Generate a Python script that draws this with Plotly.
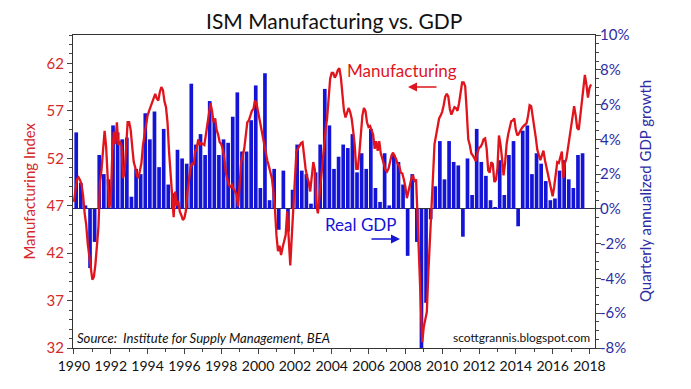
import plotly.graph_objects as go

# ---------------- data ----------------
# ISM Manufacturing index, monthly, Jan 1990 .. Feb 2018
ism_1990 = [47.4, 48.6, 49.8, 50.0, 49.7, 49.2, 48.0, 46.2, 45.0, 43.0, 41.5, 40.6]
ism_1991 = [39.2, 39.5, 40.8, 42.8, 44.8, 49.5, 50.8, 52.9, 54.9, 53.2, 49.5, 46.8]
ism_1992 = [47.5, 52.5, 54.8, 53.5, 55.8, 53.4, 53.8, 53.4, 49.9, 50.5, 53.0, 55.8]
ism_1993 = [55.8, 55.0, 53.2, 51.6, 51.0, 50.2, 49.9, 50.6, 51.5, 53.4, 54.5, 55.8]
ism_1994 = [56.5, 57.0, 57.5, 58.0, 58.5, 58.8, 58.3, 58.1, 59.0, 59.5, 59.2, 58.0]
ism_1995 = [57.4, 55.8, 52.7, 50.0, 47.4, 45.8, 48.5, 47.0, 47.5, 46.4, 46.0, 45.5]
ism_1996 = [45.7, 46.5, 48.5, 50.0, 51.0, 51.5, 51.3, 52.7, 53.0, 54.0, 53.4, 53.6]
ism_1997 = [53.5, 53.4, 54.5, 55.8, 56.9, 57.8, 57.0, 55.8, 56.2, 55.0, 54.5, 53.7]
ism_1998 = [53.5, 53.0, 52.0, 50.5, 49.8, 49.2, 49.0, 49.2, 48.8, 48.5, 48.2, 46.9]
ism_1999 = [49.5, 51.6, 52.3, 53.0, 54.4, 55.8, 56.0, 56.5, 57.0, 57.2, 58.1, 57.8]
ism_2000 = [56.9, 56.0, 55.2, 54.5, 53.6, 52.7, 51.8, 51.2, 50.5, 49.9, 48.5, 46.7]
ism_2001 = [43.9, 42.2, 42.8, 41.8, 42.6, 43.2, 43.9, 46.4, 43.2, 40.7, 43.8, 46.4]
ism_2002 = [50.2, 52.7, 53.0, 53.4, 53.6, 53.7, 52.0, 50.9, 50.0, 49.5, 48.5, 49.9]
ism_2003 = [51.6, 50.8, 47.1, 46.2, 48.0, 49.9, 51.5, 53.4, 55.0, 56.2, 58.5, 60.4]
ism_2004 = [61.0, 61.0, 60.5, 60.8, 61.3, 61.5, 60.5, 58.8, 57.0, 56.3, 56.8, 57.3]
ism_2005 = [56.9, 56.2, 54.9, 53.4, 50.9, 50.9, 52.5, 54.5, 56.5, 57.3, 57.0, 55.8]
ism_2006 = [55.3, 55.4, 55.0, 54.5, 53.0, 53.8, 52.8, 53.8, 52.5, 51.8, 51.4, 50.8]
ism_2007 = [50.6, 50.9, 51.8, 52.3, 52.6, 52.3, 51.9, 51.4, 51.2, 50.5, 50.4, 49.8]
ism_2008 = [49.0, 47.8, 48.5, 49.2, 49.9, 50.2, 49.5, 49.8, 45.5, 39.5, 36.0, 32.6]
ism_2009 = [34.2, 35.0, 35.8, 40.0, 43.0, 45.7, 50.0, 53.5, 54.5, 55.5, 56.2, 56.5]
ism_2010 = [56.9, 57.6, 58.5, 58.8, 58.5, 57.2, 56.6, 57.0, 57.4, 57.3, 57.0, 57.8]
ism_2011 = [59.0, 60.0, 60.0, 59.6, 57.0, 54.0, 53.4, 52.5, 52.3, 52.0, 51.7, 52.6]
ism_2012 = [53.1, 53.2, 53.5, 54.0, 54.1, 53.0, 50.7, 50.5, 51.6, 51.4, 49.5, 49.7]
ism_2013 = [50.9, 54.4, 53.5, 52.0, 50.2, 51.5, 53.5, 54.5, 55.2, 55.9, 56.0, 56.2]
ism_2014 = [55.0, 54.4, 54.6, 55.0, 55.2, 55.4, 55.6, 55.7, 56.5, 57.6, 57.5, 56.5]
ism_2015 = [55.0, 54.2, 52.9, 52.2, 51.8, 52.3, 52.8, 51.8, 51.0, 50.2, 49.5, 48.8]
ism_2016 = [48.0, 49.0, 50.5, 51.6, 51.5, 52.0, 52.7, 49.9, 51.5, 52.0, 53.0, 54.5]
ism_2017 = [55.3, 56.5, 57.5, 56.5, 55.2, 55.0, 56.6, 58.0, 59.5, 60.8, 59.8, 58.4]
ism_2018 = [59.4, 59.8]

ism_values = (ism_1990 + ism_1991 + ism_1992 + ism_1993 + ism_1994 + ism_1995 +
              ism_1996 + ism_1997 + ism_1998 + ism_1999 + ism_2000 + ism_2001 +
              ism_2002 + ism_2003 + ism_2004 + ism_2005 + ism_2006 + ism_2007 +
              ism_2008 + ism_2009 + ism_2010 + ism_2011 + ism_2012 + ism_2013 +
              ism_2014 + ism_2015 + ism_2016 + ism_2017 + ism_2018)
ism_dates = [1990 + i / 12 for i in range(len(ism_values))]

# Real GDP growth, quarterly annualized %, 1990Q1 .. 2017Q3
gdp_growth = [
    4.4, 1.5, 0.2, -3.4,
    -1.9, 3.1, 2.0, 1.7,
    4.8, 4.4, 4.0, 4.1,
    0.7, 2.3, 2.0, 5.5,
    4.0, 5.6, 2.4, 4.6,
    1.4, 0.9, 3.4, 2.9,
    2.6, 7.2, 3.7, 4.3,
    3.1, 6.2, 5.2, 3.1,
    4.0, 3.8, 5.3, 6.7,
    3.3, 3.3, 5.1, 7.1,
    1.2, 7.8, 0.5, 2.3,
    -1.2, 2.2, -1.3, 1.1,
    3.7, 2.2, 2.0, 0.3,
    2.1, 3.7, 6.9, 4.8,
    2.3, 3.0, 3.7, 3.5,
    4.3, 2.1, 3.2, 2.3,
    4.6, 1.2, 0.4, 3.2,
    0.2, 3.1, 2.7, 1.4,
    -2.7, 2.0, -1.9, -8.2,
    -5.4, -0.6, 1.3, 3.9,
    1.7, 3.9, 2.7, 2.5,
    -1.6, 2.9, 0.8, 4.6,
    2.7, 1.9, 0.5, 0.1,
    2.8, 0.8, 3.1, 3.9,
    -1.0, 4.5, 4.8, 2.0,
    3.2, 2.6, 1.6, 0.5,
    0.6, 2.2, 2.8, 1.7,
    1.2, 3.1, 3.2,
]
gdp_dates = [1990 + i / 4 + 0.125 for i in range(len(gdp_growth))]

year_ticks = list(range(1990, 2019, 2))
year_labels = [str(y) for y in year_ticks]
ism_ticks = [32, 37, 42, 47, 52, 57, 62]
ism_labels = [str(v) for v in ism_ticks]
gdp_ticks = [-8, -6, -4, -2, 0, 2, 4, 6, 8, 10]
gdp_labels = ["-8%", "-6%", "-4%", "-2%", "0%", "2%", "4%", "6%", "8%", "10%"]

# ---------------- styling ----------------
FONT = "Lato"
RED = "#e0141c"
RED_TXT = "#d42a2a"
BLUE = "#1414d6"
BLUE_TXT = "#2c2ca6"
AXC = "#444444"

fig = go.Figure()
fig.add_trace(go.Bar(
    x=gdp_dates, y=gdp_growth, yaxis="y",
    marker=dict(color=BLUE, line=dict(width=0)), width=0.2,
    hoverinfo="skip",
))
fig.add_trace(go.Scatter(
    x=ism_dates, y=ism_values, yaxis="y2", mode="lines",
    line=dict(color=RED, width=2.3), hoverinfo="skip",
))

fig.update_layout(
    width=691, height=389,
    margin=dict(l=73, r=96, t=35, b=41),
    paper_bgcolor="white", plot_bgcolor="white",
    showlegend=False,
    font=dict(family=FONT),
    xaxis=dict(
        range=[1989.95, 2018.3],
        tickvals=year_ticks, ticktext=year_labels, tickangle=0,
        ticks="outside", ticklen=5, tickcolor=AXC,
        showline=True, linecolor="#333333", linewidth=1, mirror=True,
        showgrid=False, zeroline=False,
        tickfont=dict(family=FONT, size=14, color="#111111"),
        minor=dict(dtick=1, tick0=1990, ticks="outside", ticklen=3, tickcolor=AXC, showgrid=False),
    ),
    yaxis=dict(
        side="right", range=[-8, 10],
        tickvals=gdp_ticks, ticktext=gdp_labels,
        ticks="outside", ticklen=5, tickcolor=AXC,
        ticklabelstandoff=-4,
        showline=True, linecolor="#333333", linewidth=1,
        showgrid=False,
        zeroline=True, zerolinecolor="#333333", zerolinewidth=1,
        tickfont=dict(family=FONT, size=15, color=BLUE_TXT),
        minor=dict(dtick=0.5, tick0=0, ticks="outside", ticklen=3, tickcolor=AXC, showgrid=False),
    ),
    yaxis2=dict(
        side="left", overlaying="y", range=[32, 65],
        tickvals=ism_ticks, ticktext=ism_labels,
        ticks="outside", ticklen=5, tickcolor=AXC,
        showline=True, linecolor="#333333", linewidth=1,
        showgrid=False, zeroline=False,
        tickfont=dict(family=FONT, size=15, color=RED_TXT),
        minor=dict(dtick=1, tick0=32, ticks="outside", ticklen=3, tickcolor=AXC, showgrid=False),
    ),
    annotations=[
        dict(text="ISM Manufacturing vs. GDP", xref="paper", yref="paper",
             x=0.5, y=1.045, xanchor="center", yanchor="middle", showarrow=False,
             font=dict(family=FONT, size=21, color="#111111")),
        dict(text="Manufacturing Index", xref="paper", yref="paper",
             x=-0.086, y=0.5, textangle=-90, xanchor="center", yanchor="middle",
             showarrow=False, font=dict(family=FONT, size=15, color=RED_TXT)),
        dict(text="Quarterly annualized GDP growth", xref="paper", yref="paper",
             x=1.095, y=0.5, textangle=-90, xanchor="center", yanchor="middle",
             showarrow=False, font=dict(family=FONT, size=15, color=BLUE_TXT)),
        dict(text="Manufacturing", xref="paper", yref="paper",
             x=0.630, y=0.888, xanchor="center", yanchor="middle", showarrow=False,
             font=dict(family=FONT, size=17, color=RED)),
        dict(text="", xref="paper", yref="paper", x=0.6418, y=0.8339,
             ax=30, ay=0, showarrow=True, arrowhead=2, arrowsize=1.2,
             arrowwidth=1.5, arrowcolor=RED),
        dict(text="Real GDP", xref="paper", yref="paper",
             x=0.551, y=0.393, xanchor="center", yanchor="middle", showarrow=False,
             font=dict(family=FONT, size=17, color=BLUE)),
        dict(text="", xref="paper", yref="paper", x=0.6264, y=0.3482,
             ax=-30, ay=0, showarrow=True, arrowhead=2, arrowsize=1.2,
             arrowwidth=1.5, arrowcolor=BLUE),
        dict(text="<i>Source:  Institute for Supply Management, BEA</i>",
             xref="paper", yref="paper", x=0.004, y=0.032,
             xanchor="left", yanchor="middle", showarrow=False,
             font=dict(family=FONT, size=13.1, color="#111111")),
        dict(text="scottgrannis.blogspot.com",
             xref="paper", yref="paper", x=0.994, y=0.032,
             xanchor="right", yanchor="middle", showarrow=False,
             font=dict(family=FONT, size=12, color="#111111")),
    ],
)

fig.write_html(
    "out.html",
    config={"displayModeBar": False},
    post_script="document.body.style.margin='0';document.body.style.overflow='hidden';",
)
